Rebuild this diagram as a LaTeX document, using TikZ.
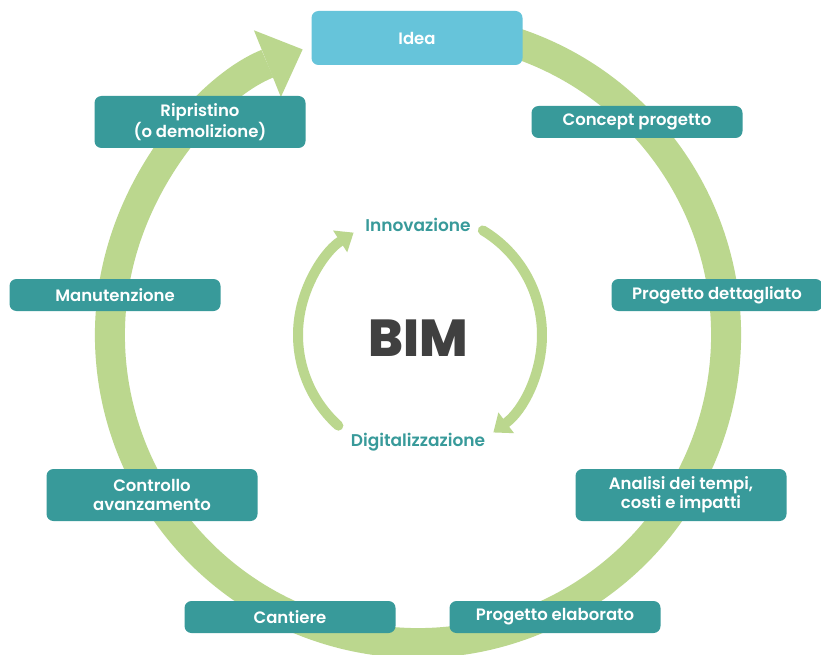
\documentclass[tikz,border=0pt]{standalone}
\usepackage{fontspec}
\setmainfont{Poppins}[BoldFont={Poppins SemiBold}]
\newfontfamily\bimfont{Poppins ExtraBold}
\usetikzlibrary{arrows.meta}
\definecolor{ringgreen}{HTML}{BBD78E}
\definecolor{boxteal}{HTML}{389A9A}
\definecolor{ideablue}{HTML}{66C4DA}
\definecolor{bimgrey}{HTML}{404040}

\begin{document}
\begin{tikzpicture}[x=1pt,y=1pt,
    phase/.style={fill=boxteal,text=white,rounded corners=7pt,
      minimum width=211pt,minimum height=32pt,align=center,inner sep=0pt,
      font=\bfseries\fontsize{16.5}{19}\selectfont},
    phasetwo/.style={phase,minimum height=52pt},
    cyclelabel/.style={text=boxteal,font=\bfseries\fontsize{17}{19}\selectfont}]
  \fill[white] (0,0) rectangle (821,-655);
  \useasboundingbox (0,0) rectangle (821,-655);
  \coordinate (c1) at (418,-335);
  \coordinate (c2) at (420,-335);
  % outer cycle
  \draw[ringgreen,line width=30pt,-{Triangle[width=72pt,length=38pt,line width=0pt]}]
    (c1) ++(72:308) arc[start angle=72,end angle=-248,radius=308];
  % inner cycle
  \draw[ringgreen,line width=10pt,line cap=round,-{Triangle[width=26pt,length=16pt,line width=0pt]}]
    (c2) ++(59:122) arc[start angle=59,end angle=-53,radius=122];
  \draw[ringgreen,line width=10pt,line cap=round,-{Triangle[width=26pt,length=16pt,line width=0pt]}]
    (c2) ++(228:122) arc[start angle=228,end angle=123,radius=122];
  \node[phase,fill=ideablue,minimum height=54pt] (idea) at (417,-38) {Idea};
  \node[phase] (concept) at (637,-122) {Concept progetto};
  \node[phase] (dett) at (717,-295) {Progetto dettagliato};
  \node[phasetwo] (analisi) at (681,-495) {Analisi dei tempi,\\costi e impatti};
  \node[phase] (elab) at (555,-617) {Progetto elaborato};
  \node[phase] (cantiere) at (290,-617) {Cantiere};
  \node[phasetwo] (controllo) at (152,-495) {Controllo\\avanzamento};
  \node[phase] (manut) at (115,-295) {Manutenzione};
  \node[phasetwo] (ripr) at (200,-122) {Ripristino\\(o demolizione)};
  \node[cyclelabel] (innov) at (418,-225) {Innovazione};
  \node[cyclelabel] (digit) at (418,-442) {Digitalizzazione};
  \node[text=bimgrey,font=\bimfont\fontsize{52}{52}\selectfont] (bim) at (418,-338) {BIM};
\end{tikzpicture}
\end{document}
